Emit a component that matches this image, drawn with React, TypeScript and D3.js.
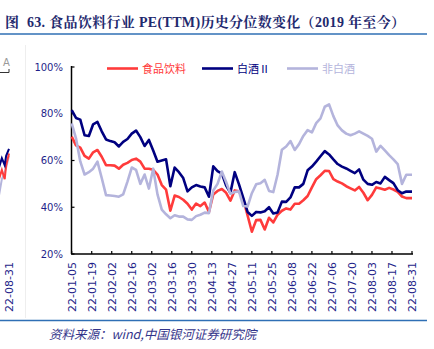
import React from "react";
import * as d3 from "d3";

const dates = [
  "2022-01-05","2022-01-08","2022-01-11","2022-01-14","2022-01-17","2022-01-20","2022-01-23","2022-01-26","2022-01-29",
  "2022-02-01","2022-02-04","2022-02-07","2022-02-10","2022-02-13","2022-02-16","2022-02-19","2022-02-22","2022-02-25","2022-02-28",
  "2022-03-03","2022-03-06","2022-03-09","2022-03-12","2022-03-15","2022-03-18","2022-03-21","2022-03-24","2022-03-27","2022-03-30",
  "2022-04-02","2022-04-05","2022-04-08","2022-04-11","2022-04-14","2022-04-17","2022-04-20","2022-04-23","2022-04-26","2022-04-29",
  "2022-05-02","2022-05-05","2022-05-08","2022-05-11","2022-05-14","2022-05-17","2022-05-20","2022-05-23","2022-05-26","2022-05-29",
  "2022-06-01","2022-06-04","2022-06-07","2022-06-10","2022-06-13","2022-06-16","2022-06-19","2022-06-22","2022-06-25","2022-06-28",
  "2022-07-01","2022-07-04","2022-07-07","2022-07-10","2022-07-13","2022-07-16","2022-07-19","2022-07-22","2022-07-25","2022-07-28","2022-07-31",
  "2022-08-03","2022-08-06","2022-08-09","2022-08-12","2022-08-15","2022-08-18","2022-08-21","2022-08-24","2022-08-27","2022-08-30","2022-08-31",
];

const foodBev = [
  70.2, 66.5, 65.5, 62, 60.8, 63.5, 64.5, 61.6, 58,
  58, 57.8, 56.5, 58.2, 59, 60.2, 60.8, 59.5, 56.5, 56.5,
  56, 54, 49.5, 47.5, 38.5, 45, 44.4, 43.2, 41.5, 39,
  41.6, 40.5, 42, 38, 45.5, 47, 47.8, 46.2, 42.8, 47.2,
  46.8, 43.4, 36.5, 29.5, 34.5, 34.6, 30.5, 35.5, 33.5, 36.8,
  38.5, 39.5, 39, 41.5, 41.5, 43, 44.8, 48.5, 52, 53.7,
  55.6, 55.5, 52, 51, 50.2, 49, 48.1, 47.2, 48.7, 46.2, 43,
  45.3, 48.5, 48, 47.5, 48.3, 47.6, 46.6, 44.6, 43.9, 43.9, 43.9,
];

const baijiu = [
  81.6, 78.2, 77.5, 70.8, 70.5, 75.5, 76.5, 72.5, 69,
  68.3, 67.8, 66, 68, 69.2, 71.5, 72.8, 70, 66.2, 68.8,
  64.3, 59.5, 60, 60.5, 49, 57, 55, 52.5, 46.8, 48.5,
  49.5, 48.9, 48.5, 44.5, 57.5, 55.5, 54.4, 49.3, 46.2, 55,
  49.8, 44, 38, 36.3, 38, 37.8, 38.3, 40, 37.3, 37.8,
  42.4, 42.3, 44.2, 48.5, 48.5, 50, 55.8, 57.4, 59.5, 61.8,
  64, 62.6, 60.5, 58.5, 57.4, 56.6, 55.6, 54.6, 56.2, 51.8, 50,
  49.6, 50.8, 50.2, 53, 51.6, 50.3, 47.3, 46, 46.7, 46.7, 46.7,
];

const nonBaijiu = [
  75.9, 69.5, 59.6, 54, 55, 56.5, 59.5, 52.5, 45.2,
  45, 44.8, 44.5, 45.5, 51, 57, 56, 50, 54, 48,
  56.5, 45.5, 39, 37, 35.3, 36.6, 36, 36, 34.8, 34.6,
  36.2, 36.8, 37.7, 37.5, 47.2, 50, 55.3, 50.8, 45.8, 46.5,
  46.8, 40.5, 40.3, 46, 49.8, 50.3, 51.7, 47, 46.5, 54,
  64.6, 66, 68.3, 64.5, 67, 70.5, 73, 72, 76, 78,
  83, 84, 79, 75, 72.9, 71.5, 70.8, 71.5, 72.5, 71.5, 70.5,
  69.3, 63.8, 66.3, 64.3, 62.3, 60.5, 58.5, 50, 53.9, 53.9, 53.9,
];

const tickLabels = [
  "22-01-05","22-01-19","22-02-02","22-02-16","22-03-02","22-03-16","22-03-30","22-04-13","22-04-27",
  "22-05-11","22-05-25","22-06-08","22-06-22","22-07-06","22-07-20","22-08-03","22-08-17","22-08-31",
];
const yTicks = [20, 40, 60, 80, 100];
const seriesNames = ["食品饮料", "白酒Ⅱ", "非白酒"];
const titleText = "图  63. 食品饮料行业 PE(TTM)历史分位数变化（2019 年至今）";

// neighbouring (cropped) chart fragment at the left edge
const neighborDates = ["2022-08-24","2022-08-26","2022-08-28","2022-08-29","2022-08-31"];
const neighborRed = [52, 56, 52, 58, 63];
const neighborNavy = [57, 61, 58, 62, 65];
const neighborLav = [45, 52, 55, 57, 62];

const COLORS = ["#ff3b3b", "#000080", "#b4b4dc"];
const TEXT_BLUE = "#1f1f8a";
const RULE_BLUE = "#2f6fb5";
const W = 434, H = 349;

const parse = d3.utcParse("%Y-%m-%d");

export default function App() {
  const x = d3.scaleUtc()
    .domain([parse("2022-01-05")!, parse("2022-08-31")!])
    .range([71.7, 412]);
  const y = d3.scaleLinear().domain([20, 100]).range([254, 67]);
  const pts = dates.map((d) => parse(d)!);
  const mk = (vals: number[]) =>
    d3.line<number>().x((_, i) => x(pts[i])).y((v) => y(v))(vals) || "";
  const series = [foodBev, baijiu, nonBaijiu];

  const nx = (d: Date) => x(d) - 403;
  const npts = neighborDates.map((d) => parse(d)!);
  const nmk = (vals: number[]) =>
    d3.line<number>().x((_, i) => nx(npts[i])).y((v) => y(v))(vals) || "";

  const legendX = [107, 202, 287];
  const axisFont = "'DejaVu Sans', Verdana, sans-serif";
  const cjk = "'Noto Sans CJK SC', sans-serif";

  return (
    <svg width={W} height={H} style={{ position: "absolute", left: 0, top: 0, background: "#fff" }}>
      <rect width={W} height={H} fill="#fff" />
      {/* title */}
      <text x={5} y={27} fontSize={14} fontWeight="bold" fill="#1f2a6e"
        textLength={400} lengthAdjust="spacing" style={{ whiteSpace: "pre" }}
        fontFamily="'Liberation Serif', 'Noto Serif CJK SC', 'Noto Sans CJK SC', serif">
        {titleText}
      </text>
      <line x1={0} x2={427} y1={34} y2={34} stroke={RULE_BLUE} strokeWidth={1.6} />

      {/* faint separator */}
      <line x1={25.5} x2={25.5} y1={45} y2={318} stroke="#eeeeee" strokeWidth={1} />

      {/* neighbour fragment */}
      <text x={3} y={66} fontSize={10} fill="#999" fontFamily={axisFont}>A</text>
      <path d="M0,72.5H9V69" fill="none" stroke="#333" strokeWidth={1} />
      <g>
        <path d={nmk(neighborLav)} fill="none" stroke={COLORS[2]} strokeWidth={2} />
        <path d={nmk(neighborRed)} fill="none" stroke={COLORS[0]} strokeWidth={2} />
        <path d={nmk(neighborNavy)} fill="none" stroke={COLORS[1]} strokeWidth={2} />
      </g>
      <text transform={`translate(${nx(parse("2022-08-31")!)},262) rotate(-90)`} dy="0.35em"
        textAnchor="end" fontSize={11} fill={TEXT_BLUE} fontFamily={axisFont}>22-08-31</text>

      {/* y axis */}
      <line x1={71.5} x2={71.5} y1={66} y2={254} stroke="#000" strokeWidth={1.5} />
      {yTicks.map((t) => (
        <g key={t}>
          <line x1={71.5} x2={74.5} y1={y(t)} y2={y(t)} stroke="#000" strokeWidth={1.2} />
          <text x={63} y={y(t)} dy="0.35em" textAnchor="end" fontSize={10} fill={TEXT_BLUE}
            fontFamily={axisFont}>{t}%</text>
        </g>
      ))}

      {/* x axis */}
      <line x1={71} x2={413} y1={254} y2={254} stroke="#000" strokeWidth={1.5} />
      {tickLabels.map((l) => {
        const tx = x(parse("20" + l)!);
        return (
          <g key={l}>
            <line x1={tx} x2={tx} y1={254} y2={251} stroke="#000" strokeWidth={1.2} />
            <text transform={`translate(${tx},262) rotate(-90)`} dy="0.35em" textAnchor="end"
              fontSize={11} fill={TEXT_BLUE} fontFamily={axisFont}>{l}</text>
          </g>
        );
      })}

      {/* series */}
      {series.map((s, i) => (
        <path key={i} d={mk(s)} fill="none" stroke={COLORS[i]} strokeWidth={2.6}
          strokeLinejoin="round" />
      ))}

      {/* legend */}
      {seriesNames.map((n, i) => (
        <g key={n}>
          <line x1={legendX[i]} x2={legendX[i] + 31} y1={68.5} y2={68.5} stroke={COLORS[i]} strokeWidth={2.6} />
          <text x={legendX[i] + 35} y={69} dy="0.35em" fontSize={11} fill={COLORS[i]} fontFamily={cjk}>{n}</text>
        </g>
      ))}

      {/* footer */}
      <line x1={0} x2={427} y1={320.5} y2={320.5} stroke={RULE_BLUE} strokeWidth={1.4} />
      <text x={49} y={339} fontSize={12.5} fontStyle="italic" fill="#34348a" fontFamily={cjk}>
        资料来源：wind,中国银河证券研究院
      </text>
    </svg>
  );
}
